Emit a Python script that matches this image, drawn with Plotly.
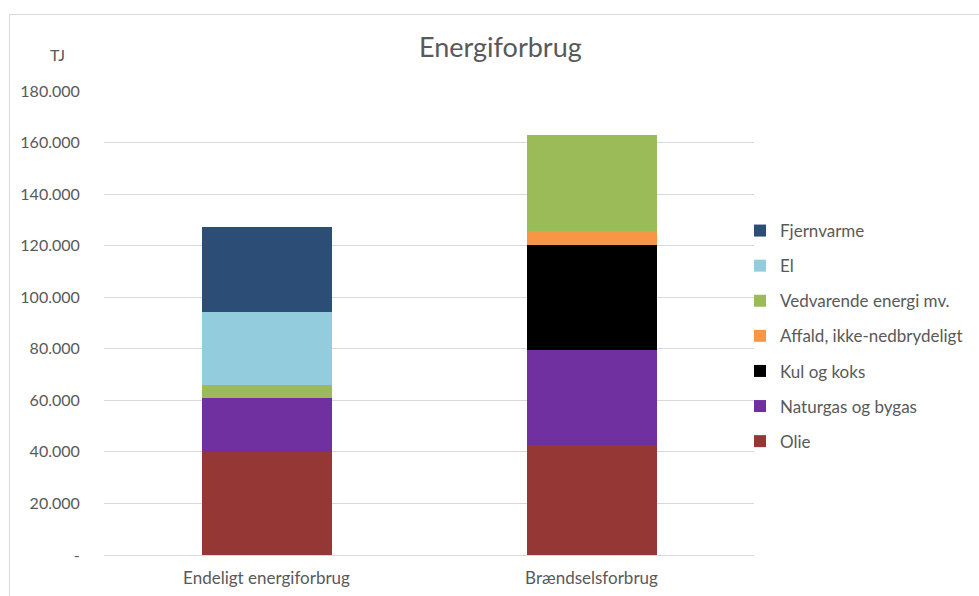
import plotly.graph_objects as go

categories = ["Endeligt energiforbrug", "Brændselsforbrug"]
series_names = ["Olie", "Naturgas og bygas", "Kul og koks", "Affald, ikke-nedbrydeligt",
                "Vedvarende energi mv.", "El", "Fjernvarme"]
olie = [40100, 42800]
naturgas = [20800, 36700]
kul = [0, 40900]
affald = [0, 5300]
vedvarende = [5000, 37400]
el = [28200, 0]
fjernvarme = [33200, 0]
colors = ["#953735", "#7030A0", "#000000", "#F79646", "#9BBB59", "#93CDDD", "#2C4D75"]
tick_vals = [0, 20000, 40000, 60000, 80000, 100000, 120000, 140000, 160000, 180000]
tick_text = ["-", "20.000", "40.000", "60.000", "80.000", "100.000", "120.000",
             "140.000", "160.000", "180.000"]

values = [olie, naturgas, kul, affald, vedvarende, el, fjernvarme]

FONT = "Lato"
GREY = "#595959"

fig = go.Figure()
n = len(series_names)
for i, (name, vals, col) in enumerate(zip(series_names, values, colors)):
    fig.add_trace(go.Bar(
        x=categories, y=vals, name=name, marker=dict(color=col, line=dict(width=0)),
        legendgroup=f"g{i}", legendrank=n - i,
    ))

L, R, T, B = 104, 225, 91, 41
W, H = 979, 596
pw, ph = W - L - R, H - T - B

def px(x):
    return (x - L) / pw

def py(y):
    return (H - B - y) / ph

fig.update_layout(
    width=W, height=H,
    margin=dict(l=L, r=R, t=T, b=B, autoexpand=False),
    barmode="stack", bargap=0.6,
    plot_bgcolor="white", paper_bgcolor="white",
    font=dict(family=FONT, color=GREY, size=16),
    showlegend=True,
    legend=dict(
        traceorder="grouped", tracegroupgap=10,
        x=px(740), xanchor="left", y=py(213), yanchor="top",
        font=dict(size=17, color=GREY, family=FONT),
        bgcolor="rgba(0,0,0,0)",
    ),
    xaxis=dict(
        showgrid=False, showline=True, linecolor="#d9d9d9", linewidth=1,
        ticks="outside", ticklen=8, tickcolor="rgba(0,0,0,0)",
        tickfont=dict(size=17, color=GREY, family=FONT),
        range=[-0.5, 1.5], fixedrange=True,
    ),
    yaxis=dict(
        range=[0, 180000], tickvals=tick_vals, ticktext=tick_text,
        showgrid=True, gridcolor="#d9d9d9", gridwidth=1, zeroline=False,
        ticks="outside", ticklen=20, tickcolor="rgba(0,0,0,0)",
        tickfont=dict(size=16, color=GREY, family=FONT),
        fixedrange=True,
    ),
    shapes=[dict(type="rect", xref="paper", yref="paper",
                 x0=px(9.5), x1=px(1000), y0=py(620), y1=py(14.5),
                 line=dict(color="#d9d9d9", width=1), layer="below")],
    annotations=[
        dict(text="Energiforbrug", xref="paper", yref="paper", x=px(500), y=py(47),
             xanchor="center", yanchor="middle", showarrow=False,
             font=dict(size=27, color=GREY, family=FONT)),
        dict(text="TJ", xref="paper", yref="paper", x=px(57), y=py(54),
             xanchor="center", yanchor="middle", showarrow=False,
             font=dict(size=16, color=GREY, family=FONT)),
    ],
)

fig.write_html("out.html")
